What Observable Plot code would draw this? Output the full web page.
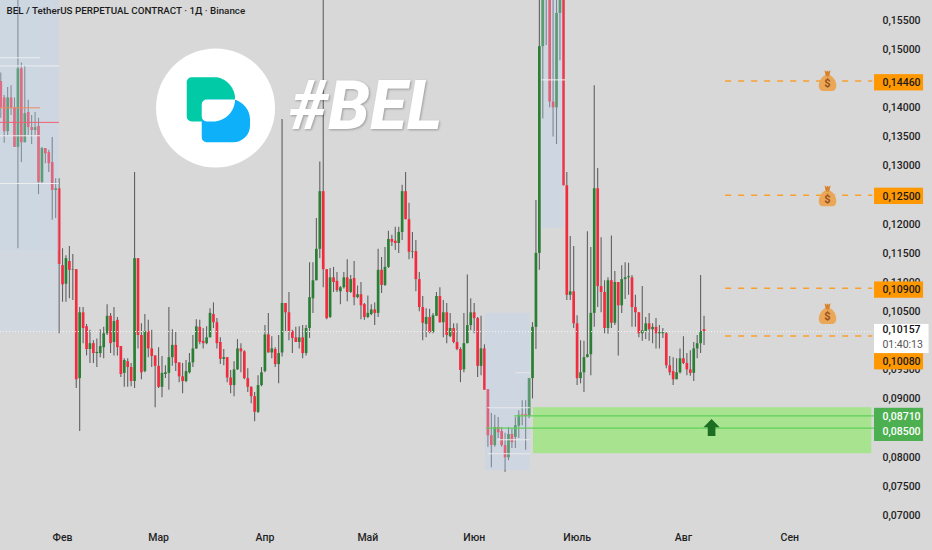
<!DOCTYPE html>
<html><head><meta charset="utf-8">
<script src="https://cdn.jsdelivr.net/npm/d3@7"></script>
<script src="https://cdn.jsdelivr.net/npm/@observablehq/plot@0.6"></script>
<style>html,body{margin:0;padding:0;background:#d8d8d8;overflow:hidden}svg{display:block}</style>
</head><body><div id="chart"></div>
<script>
// Daily candles; index 18 is 1 Feb.
const firstDay = -18;
const opens = [
.1445,.1417,.1359,.1417,.1400,.1332,.1467,.1340,.1392,.1366,
.1361,.1368,.1272,.1330,.1323,.1306,.1258,.1261,.1129,.1097,
.1136,.1121,.1122,.0935,.1048,.1024,.0985,.0995,.0978,.0978,
.0988,.1012,.1042,.0997,.1035,.0990,.0944,.0964,.0954,.0930,
.1141,.1009,.0947,.1016,.0986,.0974,.0956,.0920,.0942,.0944,
.0971,.0992,.0962,.0938,.0930,.0945,.0962,.0986,.1023,.0999,
.0995,.1005,.1045,.1031,.0997,.0968,.0971,.0936,.0923,.0950,
.0986,.0981,.0935,.0920,.0904,.0877,.0923,.0947,.1010,.0979,
.0985,.0959,.0979,.1064,.1048,.1016,.1005,.0997,.1005,.0978,
.1021,.1072,.1103,.1157,.1256,.1122,.1040,.1108,.1102,.1084,
.1091,.1108,.1083,.1107,.1074,.1079,.1062,.1040,.1045,.1053,
.1047,.1121,.1095,.1126,.1174,.1171,.1167,.1186,.1256,.1208,
.1152,.1153,.1105,.1057,.1028,.1040,.1014,.1042,.1076,.1031,
.1048,.1007,.1021,.0997,.0985,.0950,.0995,.1026,.1048,.1038,
.0956,.0986,.0916,.0837,.0820,.0851,.0844,.0820,.0799,.0839,
.0834,.0853,.0873,.0873,.0870,.0935,.1023,.1150,.1505,.1720,
.1680,.1410,.1400,.1562,.1640,.1266,.1078,.1084,.1029,.0935,
.0945,.0971,.0976,.1047,.1261,.1093,.1083,.1021,.1103,.1030,
.1100,.1060,.1105,.1108,.1108,.1057,.1048,.1012,.1016,.1029,
.1019,.1023,.1012,.1012,.1012,.0957,.0947,.0933,.0945,.0969,
.0961,.0950,.0944,.0986,.0995,.1019];
const closes = [
.1400,.1359,.1417,.1400,.1332,.1467,.1340,.1390,.1366,.1361,
.1366,.1272,.1330,.1321,.1304,.1258,.1261,.1131,.1096,.1141,
.1121,.1122,.0933,.1048,.1021,.0985,.0995,.0978,.0980,.0990,
.1012,.1042,.0995,.1033,.0988,.0942,.0966,.0954,.0930,.1141,
.1009,.0945,.1016,.0986,.0973,.0956,.0920,.0944,.0945,.0971,
.0992,.0961,.0938,.0930,.0947,.0962,.0986,.1024,.0997,.0995,
.1005,.1047,.1031,.0995,.0968,.0971,.0936,.0923,.0950,.0986,
.0981,.0935,.0920,.0904,.0877,.0923,.0945,.1010,.0979,.0986,
.0959,.0978,.1064,.1048,.1016,.1004,.0997,.1005,.0978,.1021,
.1074,.1103,.1157,.1256,.1122,.1038,.1108,.1100,.1086,.1091,
.1108,.1083,.1105,.1074,.1079,.1060,.1040,.1047,.1053,.1047,
.1121,.1095,.1126,.1174,.1169,.1167,.1186,.1256,.1208,.1152,
.1153,.1105,.1057,.1030,.1040,.1014,.1043,.1076,.1031,.1048,
.1009,.1021,.0997,.0985,.0949,.0995,.1026,.1048,.1038,.0956,
.0986,.0915,.0837,.0820,.0851,.0842,.0820,.0799,.0839,.0825,
.0854,.0872,.0871,.0870,.0935,.1023,.1150,.1505,.1620,.1680,
.1410,.1400,.1562,.1640,.1266,.1078,.1084,.1029,.0935,.0945,
.0971,.0976,.1047,.1261,.1093,.1083,.1021,.1103,.1030,.1100,
.1060,.1105,.1108,.1110,.1057,.1048,.1012,.1017,.1029,.1019,
.1023,.1012,.1014,.1014,.0957,.0945,.0933,.0945,.0969,.0961,
.0950,.0944,.0986,.0995,.1016,.10157];
const highs = [
.1460,.1421,.1435,.1438,.1417,.1600,.1477,.1472,.1413,.1387,
.1392,.1382,.1332,.1330,.1327,.1349,.1278,.1278,.1158,.1146,
.1162,.1148,.1122,.1057,.1057,.1028,.1018,.1000,.1003,.1019,
.1023,.1062,.1047,.1057,.1040,.0990,.0969,.0969,.0961,.1289,
.1141,.1029,.1045,.1035,.1018,.0974,.0988,.0973,.0957,.1057,
.1019,.1014,.0962,.0961,.0966,.0978,.1009,.1036,.1035,.1021,
.1024,.1055,.1065,.1038,.1005,.0985,.0971,.0949,.0964,.1002,
.0995,.0983,.0952,.0921,.0911,.0940,.0954,.1026,.1047,.1007,
.0988,.1009,.1380,.1064,.1083,.1018,.1023,.1024,.1026,.1026,
.1134,.1134,.1210,.1307,.1600,.1122,.1124,.1126,.1117,.1093,
.1117,.1139,.1112,.1136,.1094,.1100,.1064,.1077,.1062,.1065,
.1157,.1143,.1160,.1188,.1181,.1195,.1195,.1267,.1289,.1236,
.1186,.1172,.1117,.1076,.1055,.1054,.1047,.1083,.1091,.1069,
.1064,.1047,.1029,.1029,.0988,.1047,.1113,.1072,.1064,.1040,
.1042,.0993,.0916,.0875,.0872,.0868,.0851,.0841,.0851,.0849,
.0868,.0880,.0897,.0897,.0935,.1031,.1241,.1600,.1680,.1760,
.1700,.1600,.1600,.1680,.1680,.1289,.1179,.1162,.1043,.1000,
.0999,.1187,.1160,.1438,.1296,.1177,.1103,.1108,.1180,.1119,
.1100,.1129,.1134,.1133,.1112,.1078,.1048,.1093,.1040,.1047,
.1029,.1038,.1026,.1021,.1014,.0973,.0971,.0969,.0986,.1007,
.0978,.0983,.0997,.1009,.1112,.1042];
const lows = [
.1382,.1339,.1352,.1387,.1332,.1158,.1306,.1340,.1352,.1337,
.1352,.1251,.1270,.1304,.1289,.1207,.1210,.1012,.1066,.1066,
.1072,.1069,.0918,.0844,.0995,.0974,.0961,.0961,.0954,.0971,
.0969,.1009,.0978,.0974,.0974,.0937,.0920,.0920,.0921,.0918,
.0986,.0933,.0945,.0971,.0954,.0885,.0918,.0902,.0935,.0915,
.0956,.0947,.0928,.0909,.0928,.0943,.0954,.0985,.0993,.0986,
.0993,.1005,.1021,.0986,.0959,.0957,.0928,.0909,.0904,.0949,
.0945,.0933,.0911,.0892,.0861,.0875,.0921,.0945,.0979,.0969,
.0954,.0926,.0972,.1014,.1000,.0978,.0997,.0986,.0969,.0974,
.1004,.1047,.1103,.1141,.1091,.1036,.1038,.1083,.1083,.1062,
.1089,.1067,.1081,.1060,.1072,.1036,.1035,.1038,.1043,.1026,
.1040,.1081,.1093,.1124,.1162,.1155,.1150,.1172,.1208,.1139,
.1141,.1084,.1050,.1000,.1005,.1012,.1012,.1042,.1030,.1005,
.0995,.1005,.0995,.0983,.0928,.0945,.0995,.1017,.1012,.0937,
.0940,.0915,.0817,.0782,.0817,.0832,.0817,.0774,.0794,.0815,
.0815,.0832,.0854,.0812,.0866,.0900,.0985,.1121,.1381,.1507,
.1400,.1350,.1337,.1481,.1266,.1069,.1069,.1021,.0923,.0926,
.0911,.0971,.0940,.1023,.1057,.1048,.1012,.1011,.1021,.1026,
.0974,.1047,.1071,.1078,.1023,.1023,.1005,.0999,.1002,.0999,
.0995,.0986,.0986,.1004,.0952,.0940,.0923,.0933,.0943,.0959,
.0940,.0939,.0930,.0969,.0978,.0992];

const title = "BEL / TetherUS PERPETUAL CONTRACT · 1Д · Binance";
const monthDays = [0, 28, 59, 89, 120, 150, 181, 212];
const monthNames = ["Фев", "Мар", "Апр", "Май", "Июн", "Июль", "Авг", "Сен"];
// 0.085, 0.100, 0.125 and 0.145 sit fully behind the price boxes in the reference
const priceTicks = [0.07, 0.075, 0.08, 0.09, 0.095, 0.105, 0.11, 0.115, 0.12, 0.13, 0.135, 0.14, 0.15, 0.155];
const lastPrice = 0.10157;
const targets = [0.1446, 0.125, 0.109, 0.1008];
const targetLabels = ["0,14460", "0,12500", "0,10900", "0,10080"];
const targetLabelAt = [0.1443, 0.1248, 0.1087, 0.0964];
const bagPrices = [0.1443, 0.1245, 0.1043];
const entries = [0.0871, 0.085];
const entryLabels = ["0,08710", "0,08500"];
const entryLabelAt = [0.0870, 0.0844];

// shaded sessions: from-day, to-day, low, high, strength
const zoneFrom = [-18.1, -18.1, -18.1, 123.3, 139.8];
const zoneTo = [-0.9, -0.9, -6.4, 136.4, 146.1];
const zoneLow = [0.1014, 0.1155, 0.1155, 0.0777, 0.1193];
const zoneHigh = [0.1600, 0.1600, 0.1600, 0.1047, 0.1600];
const zoneAlpha = [0.24, 0.12, 0.08, 0.32, 0.32];

// thin levels inside the shaded sessions
const lvlFrom = [-18.1, -18.1, -18.1, -18.1, -18.1, -18.1, 124, 124, 132.2, 127, 139.8];
const lvlTo = [-6.4, -0.9, -6.4, -0.9, -6.4, -0.9, 136.4, 136.4, 136.4, 136.4, 146.7];
const lvlPrice = [0.1486, 0.1472, 0.1352, 0.1270, 0.1400, 0.1375, 0.0885, 0.0806, 0.0945, 0.0830, 0.1448];
const lvlColor = ["#eeeeee", "#eeeeee", "#eeeeee", "#eeeeee", "#ef8a60", "#ef5f70", "#e8e8e8", "#e8e8e8", "#e8e8e8", "#e8e8e8", "#f0f0f0"];

const candles = opens.map((o, i) => ({day: firstDay + i, o, c: closes[i], h: highs[i], l: lows[i]}));
const up = candles.filter(d => d.c >= d.o);
const down = candles.filter(d => d.c < d.o);
const zones = zoneFrom.map((a, i) => ({a, b: zoneTo[i], lo: zoneLow[i], hi: zoneHigh[i], al: zoneAlpha[i]}));
const lvls = lvlFrom.map((a, i) => ({a, b: lvlTo[i], p: lvlPrice[i], col: lvlColor[i]}));

const arrowSym = {draw(ctx, size) {
  const s = Math.sqrt(size / Math.PI);
  ctx.moveTo(0, -s); ctx.lineTo(s * .95, -s * .02); ctx.lineTo(s * .45, -s * .02);
  ctx.lineTo(s * .45, s); ctx.lineTo(-s * .45, s); ctx.lineTo(-s * .45, -s * .02);
  ctx.lineTo(-s * .95, -s * .02); ctx.closePath();
}};
const bagSym = {draw(ctx, size) {
  const s = Math.sqrt(size / Math.PI);
  ctx.moveTo(-s * .32, -s * .72);
  ctx.bezierCurveTo(-s * .95, -s * .3, -s * 1.1, s * .75, -s * .5, s * .82);
  ctx.lineTo(s * .5, s * .82);
  ctx.bezierCurveTo(s * 1.1, s * .75, s * .95, -s * .3, s * .32, -s * .72);
  ctx.closePath();
}};
const knotSym = {draw(ctx, size) {
  const s = Math.sqrt(size / Math.PI);
  ctx.moveTo(-s, -s); ctx.lineTo(-s * .3, -s * .5); ctx.lineTo(0, -s); ctx.lineTo(s * .3, -s * .5);
  ctx.lineTo(s, -s); ctx.lineTo(s * .6, s); ctx.lineTo(-s * .6, s); ctx.closePath();
}};

function logoMark(index, {x, y}) {
  const svgNS = "http://www.w3.org/2000/svg";
  const g = document.createElementNS(svgNS, "g");
  g.setAttribute("transform", `translate(${x(44.6)},${y(0.13997)})`);
  const shapes = [
    ["#00cba6", "M-23.3,-30.3H2A22,22 0 0 1 20,-8L-8,14H-23.3A5,5 0 0 1 -28.3,9V-25.3A5,5 0 0 1 -23.3,-30.3Z"],
    ["#0fb0fa", "M-8.3,-8H19A21,21 0 0 1 35,12V18A16.7,16.7 0 0 1 18.3,34.7H-8.3A5,5 0 0 1 -13.3,29.7V-3A5,5 0 0 1 -8.3,-8Z"],
    ["#ffffff", "M-13.3,-3A5,5 0 0 1 -8.3,-8H20C20,4 10,14 -2,14H-8.3A5,5 0 0 1 -13.3,9Z"]
  ];
  for (const [fill, d] of shapes) {
    const p = document.createElementNS(svgNS, "path");
    p.setAttribute("fill", fill); p.setAttribute("d", d); g.appendChild(p);
  }
  return g;
}

const boxX1 = 236.7, boxX2 = 251, boxX3 = 252.6, labelX = 239, halfBox = 0.0014;
const font = "Roboto, sans-serif";
const fs = 10.5;

const chart = Plot.plot({
  width: 932, height: 550,
  marginLeft: 0, marginRight: 0, marginTop: 0, marginBottom: 0,
  style: {background: "#d8d8d8", fontFamily: font},
  x: {type: "linear", domain: [-18.08, 253.6], range: [0, 932], axis: null},
  y: {type: "linear", domain: [0.06398, 0.15843], range: [550, 0], axis: null},
  marks: [
    Plot.rect([0], {x1: 137.3, x2: 235.9, y1: 0.0806, y2: 0.0885, fill: "#a8e38f"}),
    Plot.ruleX(candles, {x: "day", y1: "l", y2: "h", stroke: "#616161", strokeWidth: 1.1, clip: true}),
    Plot.ruleX(up, {x: "day", y1: "o", y2: "c", stroke: "#2b7f35", strokeWidth: 2.7, clip: true}),
    Plot.ruleX(down, {x: "day", y1: "o", y2: "c", stroke: "#f02c3e", strokeWidth: 2.7, clip: true}),
    Plot.rect(zones, {x1: "a", x2: "b", y1: "lo", y2: "hi", fill: "rgb(187,216,247)", fillOpacity: "al", clip: true}),
    Plot.ruleY(lvls, {x1: "a", x2: "b", y: "p", stroke: "col", strokeWidth: 1, clip: true}),
    Plot.ruleY([lastPrice], {x1: -18.08, x2: 236.5, stroke: "#f6f6f6", strokeWidth: 1, strokeDasharray: "1 2"}),
    Plot.ruleY([entries[1]], {x1: 123.6, x2: 236.7, stroke: "#5fcf58", strokeWidth: 1.4}),
    Plot.ruleY([entries[0]], {x1: 131.8, x2: 236.7, stroke: "#5fcf58", strokeWidth: 1.4}),
    Plot.dot([0.0851], {x: 189.2, y: d => d, r: 8.5, symbol: arrowSym, fill: "#1b6e22", stroke: "none"}),
    Plot.ruleY(targets, {x1: 193.3, x2: 236.2, stroke: "#f9a02c", strokeWidth: 1.5, strokeDasharray: "6 7"}),
    Plot.dot(bagPrices, {x: 223, y: d => d, r: 10, symbol: bagSym, fill: "#eaa757", stroke: "none"}),
    Plot.dot(bagPrices, {x: 223, y: d => d, r: 3, dy: -9.5, symbol: knotSym, fill: "#d9822b", stroke: "none"}),
    Plot.text(bagPrices, {x: 223, y: d => d, text: () => "$", fontSize: 11, fontWeight: 700, fill: "#9a4f1c", dy: 1}),
    Plot.axisY(priceTicks, {x: labelX, anchor: "right", tickSize: 0, tickPadding: 0, label: null, fontSize: fs, fontWeight: 500, fill: "#1f1f1f", tickFormat: d => d3.format(".5f")(d).replace(".", ",")}),
    Plot.axisX(monthDays, {y: 0.0662, anchor: "bottom", tickSize: 0, tickPadding: 0, label: null, fontSize: fs, fontWeight: 500, fill: "#1f1f1f", lineAnchor: "middle", tickFormat: (d, i) => monthNames[monthDays.indexOf(d)]}),
    Plot.rect(targetLabelAt, {x1: boxX1, x2: boxX2, y1: d => d - halfBox, y2: d => d + halfBox, fill: "#ff9800"}),
    Plot.text(targetLabels, {x: labelX, y: (d, i) => targetLabelAt[i], textAnchor: "start", fontSize: fs, fontWeight: 500, fill: "#1a1a1a"}),
    Plot.rect([0], {x1: boxX1, x2: boxX2, y1: 0.0827, y2: 0.0884, fill: "#4caf50"}),
    Plot.text(entryLabels, {x: labelX, y: (d, i) => entryLabelAt[i], textAnchor: "start", fontSize: fs, fontWeight: 500, fill: "#ffffff"}),
    Plot.rect([0], {x1: boxX1, x2: boxX3, y1: 0.0978, y2: 0.1028, fill: "#ffffff"}),
    Plot.text(["0,10157"], {x: labelX, y: 0.1019, textAnchor: "start", fontSize: fs, fontWeight: 500, fill: "#111"}),
    Plot.text(["01:40:13"], {x: labelX, y: 0.0994, textAnchor: "start", fontSize: fs, fontWeight: 400, fill: "#555"}),
    Plot.dot([0.13997], {x: 44.6, y: d => d, r: 59.5, fill: "#ffffff", stroke: "none"}),
    logoMark,
    Plot.text(["#BEL"], {x: 66.2, y: 0.1401, textAnchor: "start", fontFamily: "Roboto, sans-serif", fontWeight: 800, fontStyle: "italic", fontSize: 67.5, fill: "#ffffff", imageFilter: "drop-shadow(1.5px 1.5px 1px rgba(0,0,0,.28))"}),
    Plot.text([title], {frameAnchor: "top-left", dx: 6, dy: 7, lineAnchor: "top", fontSize: 9.8, fontWeight: 500, fill: "#1c1c1c", fontFamily: "Roboto, sans-serif"})
  ]
});
document.getElementById("chart").appendChild(chart);
</script></body></html>
